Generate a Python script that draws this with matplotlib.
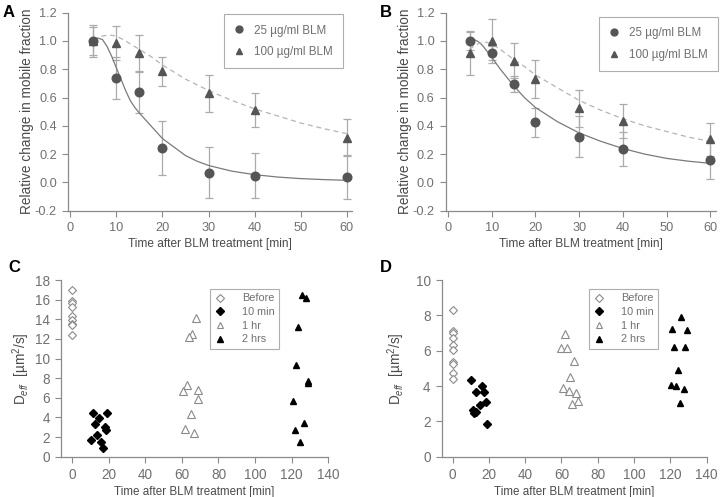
import matplotlib
matplotlib.use("Agg")
import matplotlib.pyplot as plt

plt.rcParams['font.family'] = ['Liberation Sans', 'DejaVu Sans']
plt.rcParams['mathtext.fontset'] = 'custom'
plt.rcParams['mathtext.rm'] = 'Liberation Sans'
plt.rcParams['mathtext.it'] = 'Liberation Sans:italic'

# ---------------- Data: panels A and B ----------------
t_points = [5, 10, 15, 20, 30, 40, 60]

a_25 = [1.0, 0.74, 0.636, 0.245, 0.07, 0.047, 0.04]
a_25_err = [0.11, 0.15, 0.145, 0.19, 0.18, 0.16, 0.155]
a_100 = [1.0, 0.983, 0.915, 0.785, 0.63, 0.51, 0.315]
a_100_err = [0.10, 0.12, 0.125, 0.105, 0.13, 0.12, 0.13]

b_25 = [1.0, 0.917, 0.695, 0.424, 0.323, 0.233, 0.158]
b_25_err = [0.065, 0.05, 0.055, 0.10, 0.145, 0.12, 0.135]
b_100 = [0.912, 1.0, 0.86, 0.73, 0.525, 0.435, 0.305]
b_100_err = [0.155, 0.155, 0.125, 0.135, 0.13, 0.12, 0.115]

# fitted curves
fit_a25_x = [5, 6, 7, 8, 9, 10, 11, 12, 13, 14, 15, 17.5, 20, 22.5, 25, 27.5, 30, 35, 40, 45, 50, 55, 60]
fit_a25_y = [1.0, 1.02, 1.01, 0.96, 0.89, 0.81, 0.73, 0.65, 0.58, 0.53, 0.49, 0.40, 0.31, 0.25, 0.19, 0.15, 0.12, 0.08, 0.055, 0.038, 0.027, 0.02, 0.015]
fit_a100_x = [5, 6, 7, 8, 9, 10, 12, 15, 17.5, 20, 25, 30, 35, 40, 45, 50, 55, 60]
fit_a100_y = [1.01, 1.025, 1.035, 1.04, 1.04, 1.035, 1.0, 0.94, 0.89, 0.83, 0.73, 0.65, 0.58, 0.52, 0.47, 0.42, 0.38, 0.345]
fit_b25_x = [5, 6, 7, 8, 9, 10, 12, 15, 17.5, 20, 25, 30, 35, 40, 45, 50, 55, 60]
fit_b25_y = [1.0, 1.01, 0.995, 0.965, 0.925, 0.885, 0.80, 0.685, 0.60, 0.53, 0.43, 0.35, 0.29, 0.24, 0.20, 0.17, 0.15, 0.135]
fit_b100_x = [5, 6, 7, 8, 9, 10, 12, 15, 17.5, 20, 25, 30, 35, 40, 45, 50, 55, 60]
fit_b100_y = [0.94, 0.965, 0.982, 0.99, 0.99, 0.98, 0.94, 0.87, 0.82, 0.76, 0.67, 0.58, 0.51, 0.45, 0.40, 0.36, 0.32, 0.29]

# ---------------- Data: panel C ----------------
c_before_x = [0, 0, 0, 0, 0, 0, 0, 0, 0]
c_before_y = [17.0, 15.9, 15.7, 15.2, 14.3, 13.9, 13.5, 13.4, 12.4]
c_10_x = [11.7, 18.9, 15.0, 12.8, 18.2, 18.8, 13.8, 10.6, 15.8, 16.8]
c_10_y = [4.5, 4.47, 3.96, 3.34, 3.0, 2.69, 2.18, 1.74, 1.5, 0.92]
c_1h_x = [67.6, 65.8, 63.8, 62.8, 60.7, 68.7, 68.7, 64.8, 61.7, 66.8]
c_1h_y = [14.18, 12.48, 12.2, 7.3, 6.65, 6.75, 5.83, 4.4, 2.83, 2.42]
c_2h_x = [125.7, 127.9, 123.7, 122.6, 128.8, 128.8, 120.8, 126.8, 121.9, 124.8]
c_2h_y = [16.43, 16.16, 13.19, 9.34, 7.7, 7.47, 5.69, 3.41, 2.73, 1.5]

# ---------------- Data: panel D ----------------
d_before_x = [0, 0, 0, 0, 0, 0, 0, 0, 0, 0]
d_before_y = [8.28, 7.12, 7.0, 6.69, 6.34, 6.04, 5.38, 5.25, 4.75, 4.39]
d_10_x = [10.2, 16.2, 13.1, 17.1, 18.2, 14.9, 11.1, 13.1, 12.0, 19.1]
d_10_y = [4.34, 4.0, 3.67, 3.67, 3.07, 2.9, 2.63, 2.52, 2.48, 1.84]
d_1h_x = [62.0, 59.6, 63.3, 67.1, 64.9, 60.9, 64.0, 67.8, 69.1, 66.0]
d_1h_y = [6.93, 6.16, 6.16, 5.42, 4.51, 3.88, 3.71, 3.62, 3.14, 3.01]
d_2h_x = [125.6, 120.7, 128.9, 121.8, 128.0, 124.4, 120.4, 123.3, 127.5, 125.3]
d_2h_y = [7.9, 7.22, 7.16, 6.19, 6.19, 4.89, 4.03, 3.98, 3.83, 3.03]

legend_ab = ["25 µg/ml BLM", "100 µg/ml BLM"]
legend_cd = ["Before", "10 min", "1 hr", "2 hrs"]
xlabel = "Time after BLM treatment [min]"
ylabel_ab = "Relative change in mobile fraction"
ylabel_cd = r"D$_{\it eff}$  [µm$^2$/s]"

SPINE = '#8a8a8a'
TICKTXT = '#707070'
LABTXT = '#4a4a4a'
MARK = '#555555'
ERR = '#ababab'

fig = plt.figure(figsize=(7.2, 4.97), dpi=100)


def style(ax, tsize):
    for s in ['top', 'right']:
        ax.spines[s].set_visible(False)
    for s in ['left', 'bottom']:
        ax.spines[s].set_color(SPINE)
        ax.spines[s].set_linewidth(0.9)
    ax.tick_params(direction='out', length=4, width=0.8, color=SPINE,
                   labelcolor=TICKTXT, labelsize=tsize, pad=4)


def panel_ab(rect, y25, e25, y100, e100, fx25, fy25, fx100, fy100, leg_anchor):
    ax = fig.add_axes(rect)
    style(ax, 9.2)
    ax.errorbar(t_points, y100, yerr=e100, fmt='none', ecolor=ERR, elinewidth=0.9,
                capsize=3, capthick=0.9, zorder=2)
    ax.errorbar(t_points, y25, yerr=e25, fmt='none', ecolor=ERR, elinewidth=0.9,
                capsize=3, capthick=0.9, zorder=2)
    ax.plot(fx25, fy25, '-', color='#7a7a7a', lw=0.9, zorder=3)
    ax.plot(fx100, fy100, '--', color='#b4b4b4', lw=0.9, dashes=(4, 3), zorder=3)
    h2, = ax.plot(t_points, y100, '^', color=MARK, ms=6, ls='none', zorder=4)
    h1, = ax.plot(t_points, y25, 'o', color=MARK, ms=6.2, ls='none', zorder=5)
    ax.set_xlim(-0.5, 61.2)
    ax.set_ylim(-0.2, 1.2)
    ax.set_xticks(range(0, 61, 10))
    ax.set_yticks([-0.2, 0.0, 0.2, 0.4, 0.6, 0.8, 1.0, 1.2])
    ax.set_yticklabels(['-0.2', '0.0', '0.2', '0.4', '0.6', '0.8', '1.0', '1.2'])
    ax.set_xlabel(xlabel, fontsize=8.6, color=LABTXT, labelpad=3)
    ax.set_ylabel(ylabel_ab, fontsize=9.8, color=LABTXT, labelpad=0.5)
    leg = ax.legend([h1, h2], legend_ab, loc='upper right', bbox_to_anchor=leg_anchor,
                    bbox_transform=fig.transFigure, borderaxespad=0,
                    frameon=True, fancybox=False, fontsize=8.4, labelcolor=TICKTXT,
                    handletextpad=0.85, borderpad=0.9, labelspacing=0.8,
                    handlelength=0.8, markerscale=0.8)
    leg.get_frame().set_edgecolor('#9a9a9a')
    leg.get_frame().set_linewidth(0.8)
    return ax


def panel_cd(rect, ymax, yticks, bx, by, x10, y10, x1, y1, x2, y2, leg_anchor, ypad):
    ax = fig.add_axes(rect)
    style(ax, 9.8)
    h0, = ax.plot(bx, by, 'D', mfc='white', mec='#8a8a8a', mew=0.8, ms=4.4, ls='none')
    h1, = ax.plot(x10, y10, 'D', color='black', ms=4.3, ls='none')
    h2, = ax.plot(x1, y1, '^', mfc='white', mec='#8a8a8a', mew=0.8, ms=5.5, ls='none')
    h3, = ax.plot(x2, y2, '^', color='black', ms=5, ls='none')
    ax.set_xlim(-6, 140)
    ax.set_ylim(0, ymax)
    ax.set_xticks(range(0, 141, 20))
    ax.set_yticks(yticks)
    ax.set_xlabel(xlabel, fontsize=8.4, color=LABTXT, labelpad=3)
    ax.set_ylabel(ylabel_cd, fontsize=9.8, color=LABTXT, labelpad=ypad)
    leg = ax.legend([h0, h1, h2, h3], legend_cd, loc='upper left',
                    bbox_to_anchor=leg_anchor, bbox_transform=fig.transFigure,
                    borderaxespad=0, frameon=True, fancybox=False,
                    fontsize=7.8, labelcolor=TICKTXT, handletextpad=1.5,
                    borderpad=0.4, labelspacing=0.34, handlelength=1.07,
                    markerscale=0.85)
    leg.get_frame().set_edgecolor('#9a9a9a')
    leg.get_frame().set_linewidth(0.8)
    return ax


panel_ab([0.0944, 0.576, 0.395, 0.3985], a_25, a_25_err, a_100, a_100_err,
         fit_a25_x, fit_a25_y, fit_a100_x, fit_a100_y, (0.4768, 0.9718))
panel_ab([0.619, 0.576, 0.375, 0.3985], b_25, b_25_err, b_100, b_100_err,
         fit_b25_x, fit_b25_y, fit_b100_x, fit_b100_y, (0.997, 0.966))
panel_cd([0.0847, 0.0811, 0.3713, 0.3555], 18, list(range(0, 19, 2)),
         c_before_x, c_before_y, c_10_x, c_10_y, c_1h_x, c_1h_y, c_2h_x, c_2h_y,
         (0.2917, 0.4185), 2)
panel_cd([0.6135, 0.0811, 0.368, 0.3555], 10, list(range(0, 11, 2)),
         d_before_x, d_before_y, d_10_x, d_10_y, d_1h_x, d_1h_y, d_2h_x, d_2h_y,
         (0.818, 0.4185), 6)

for lbl, x, y in [('A', 0.004, 0.975), ('B', 0.527, 0.975), ('C', 0.011, 0.461), ('D', 0.527, 0.461)]:
    fig.text(x, y, lbl, fontsize=12, fontweight='bold', color='black', va='center')

fig.savefig('out.png', dpi=100)
